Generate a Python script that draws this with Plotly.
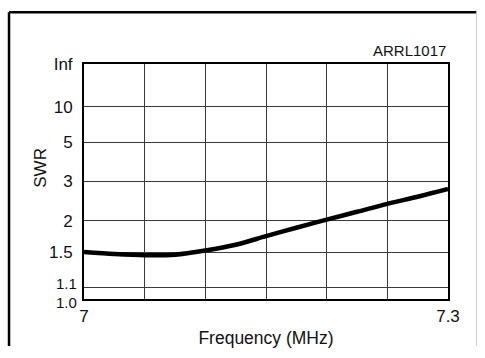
import plotly.graph_objects as go

freq_mhz = [7.0, 7.025, 7.05, 7.075, 7.1, 7.125, 7.15, 7.175, 7.2, 7.225, 7.25, 7.275, 7.3]
swr = [1.50, 1.474, 1.458, 1.465, 1.52, 1.60, 1.73, 1.87, 2.02, 2.18, 2.36, 2.54, 2.76]

swr_ticks = [1.0, 1.1, 1.5, 2, 3, 5, 10, float("inf")]
swr_tick_labels = ["1.0", "1.1", "1.5", "2", "3", "5", "10", "Inf"]

x_grid = [7.0, 7.05, 7.1, 7.15, 7.2, 7.25, 7.3]
x_tick_labels = ["7", "", "", "", "", "", "7.3"]


def refl(s):
    if s == float("inf"):
        return 1.0
    return (s - 1.0) / (s + 1.0)


font = "Liberation Sans, Arial, sans-serif"
tick_size = 17
small_size = 15

fig = go.Figure()
fig.add_trace(go.Scatter(
    x=freq_mhz, y=[refl(s) for s in swr], mode="lines",
    line=dict(color="black", width=4.5, shape="spline", smoothing=0.8),
    hoverinfo="skip", showlegend=False,
))

# the two crowded bottom labels (1.1, 1.0) are placed as annotations so they stack
main_vals = [refl(s) for s in swr_ticks]
main_text = [t if t not in ("1.0", "1.1") else "" for t in swr_tick_labels]

annotations = [
    dict(text="ARRL1017", xref="paper", yref="paper", x=1.0, y=1.0,
         xanchor="right", yanchor="bottom", yshift=3, showarrow=False,
         font=dict(size=15, family=font, color="#111")),
    dict(text="SWR", xref="paper", yref="paper", x=-0.12, y=0.56,
         xanchor="center", yanchor="middle", textangle=-90, showarrow=False,
         font=dict(size=17, family=font, color="#111")),
    dict(text=swr_tick_labels[1], xref="paper", yref="y", x=0, y=refl(swr_ticks[1]),
         xanchor="right", yanchor="middle", xshift=-6, yshift=4.5, showarrow=False,
         borderpad=0, font=dict(size=small_size, family=font, color="#111")),
    dict(text=swr_tick_labels[0], xref="paper", yref="y", x=0, y=refl(swr_ticks[0]),
         xanchor="right", yanchor="middle", xshift=-6, yshift=-3, showarrow=False,
         borderpad=0, font=dict(size=small_size, family=font, color="#111")),
]

fig.update_layout(
    width=485, height=358,
    margin=dict(l=84, r=37, t=64, b=59),
    paper_bgcolor="white", plot_bgcolor="white",
    font=dict(family=font, color="#111", size=tick_size),
    xaxis=dict(
        range=[7.0, 7.3], tickvals=x_grid, ticktext=x_tick_labels,
        showgrid=True, gridcolor="#3a3a3a", gridwidth=1,
        showline=True, linecolor="black", linewidth=2, mirror=True,
        ticks="", ticklen=0, zeroline=False, ticklabelstandoff=1,
        tickfont=dict(size=tick_size),
        title=dict(text="Frequency (MHz)", font=dict(size=17.5), standoff=6),
    ),
    yaxis=dict(
        range=[0, 1], tickvals=main_vals, ticktext=main_text,
        showgrid=True, gridcolor="#3a3a3a", gridwidth=1,
        showline=True, linecolor="black", linewidth=2, mirror=True,
        ticks="", ticklen=0, zeroline=False, ticklabelstandoff=6,
        tickfont=dict(size=tick_size),
    ),
    annotations=annotations,
    shapes=[
        dict(type="line", xref="paper", yref="paper", x0=-0.206, x1=-0.206, y0=-0.2, y1=1.22,
             line=dict(color="black", width=2.5)),
        dict(type="line", xref="paper", yref="paper", x0=-0.206, x1=1.078, y0=1.22, y1=1.22,
             line=dict(color="black", width=2.5)),
        dict(type="line", xref="paper", yref="paper", x0=1.078, x1=1.078, y0=-0.2, y1=1.22,
             line=dict(color="#cccccc", width=1)),
    ],
)

fig.write_html("out.html")
